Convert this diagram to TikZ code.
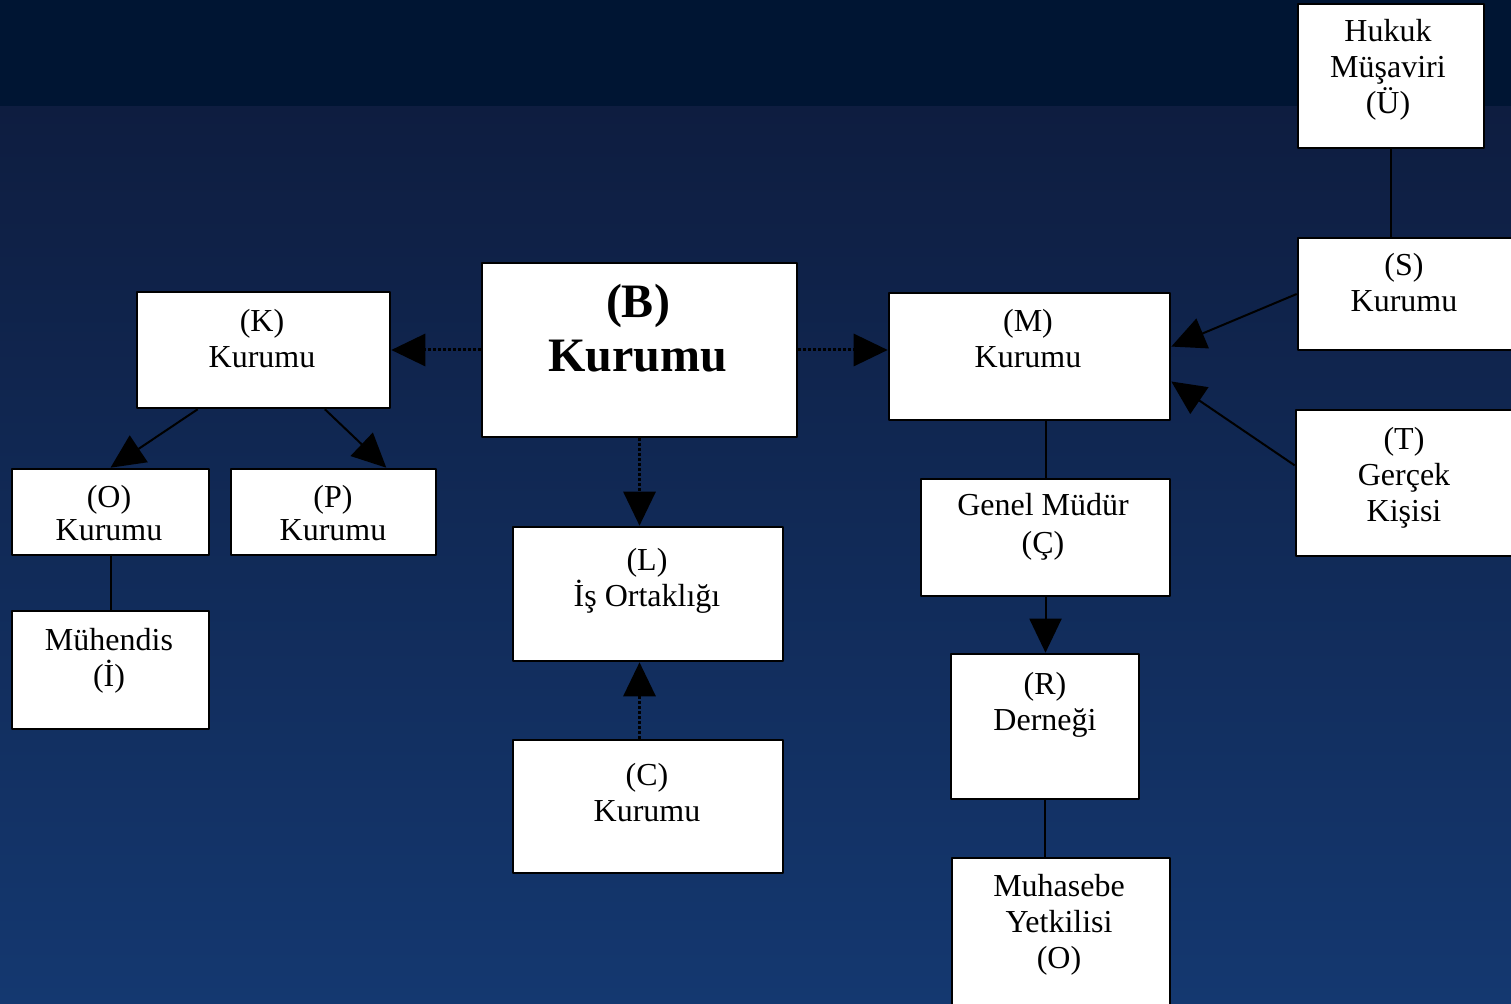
\documentclass[tikz,border=0pt]{standalone}
\usepackage{fontspec}
\setmainfont{Liberation Serif}
\usetikzlibrary{arrows.meta}
\definecolor{bgust}{RGB}{0,21,51}
\definecolor{bgorta}{RGB}{14,29,64}
\definecolor{bgalt}{RGB}{20,56,112}

\begin{document}
\begin{tikzpicture}[x=0.5pt,y=-0.5pt,line join=round,
	kutu/.style={draw=black,fill=white,line width=1.3pt,inner sep=0pt},
	yazi/.style={anchor=north,align=center,inner sep=0pt,font=\fontsize{16}{18}\selectfont},
	ok/.style={-{Triangle[length=17pt,width=16pt]},line width=1pt},
	nokta/.style={ok,line width=1.5pt,densely dotted}]
	\useasboundingbox (0,0) rectangle (1511,1004);
	\clip (0,0) rectangle (1511,1004);
	
	% arka plan
	\fill[bgust] (0,0) rectangle (1511,107);
	\shade[top color=bgorta,bottom color=bgalt] (0,107) rectangle (1511,1004);
	
	% kutular
	\node[kutu,minimum width=157.5pt,minimum height=87pt] (B) at (639.5,350) {};
	\node[kutu,minimum width=126.5pt,minimum height=58pt] (K) at (263.5,350) {};
	\node[kutu,minimum width=98.5pt,minimum height=43pt] (O) at (110.5,512) {};
	\node[kutu,minimum width=102.5pt,minimum height=43pt] (P) at (333.5,512) {};
	\node[kutu,minimum width=98.5pt,minimum height=59pt] (I) at (110.5,670) {};
	\node[kutu,minimum width=135pt,minimum height=67pt] (L) at (648,594) {};
	\node[kutu,minimum width=135pt,minimum height=66.5pt] (C) at (648,806.5) {};
	\node[kutu,minimum width=140.5pt,minimum height=63.5pt] (M) at (1029.5,356.5) {};
	\node[kutu,minimum width=124.5pt,minimum height=58.5pt] (G) at (1045.5,537.5) {};
	\node[kutu,minimum width=94pt,minimum height=72.5pt] (R) at (1045,726.5) {};
	\node[kutu,minimum width=109pt,minimum height=76pt] (H) at (1061,934) {};
	\node[kutu,minimum width=93pt,minimum height=72pt] (U) at (1391,76) {};
	\node[kutu,minimum width=109pt,minimum height=56pt] (S) at (1407,294) {};
	\node[kutu,minimum width=110pt,minimum height=73pt] (T) at (1406,483) {};
	
	% yazilar
	\node[yazi,font=\fontsize{24}{27}\selectfont\bfseries] (Bt) at (638,284) {(B)\\Kurumu};
	\node[yazi] (Kt) at (262,309) {(K)\\Kurumu};
	\node[yazi,font=\fontsize{16}{16.5}\selectfont] (Ot) at (109,485) {(O)\\Kurumu};
	\node[yazi,font=\fontsize{16}{16.5}\selectfont] (Pt) at (333,485) {(P)\\Kurumu};
	\node[yazi] (It) at (109,628) {Mühendis\\(İ)};
	\node[yazi] (Lt) at (647,548) {(L)\\İş Ortaklığı};
	\node[yazi] (Ct) at (647,763) {(C)\\Kurumu};
	\node[yazi] (Mt) at (1028,309) {(M)\\Kurumu};
	\node[yazi,font=\fontsize{16}{19}\selectfont] (Gt) at (1043,493) {Genel Müdür\\(Ç)};
	\node[yazi] (Rt) at (1045,672) {(R)\\Derneği};
	\node[yazi] (Ht) at (1059,874) {Muhasebe\\Yetkilisi\\(O)};
	\node[yazi] (Ut) at (1388,19) {Hukuk\\Müşaviri\\(Ü)};
	\node[yazi] (St) at (1404,253) {(S)\\Kurumu};
	\node[yazi] (Tt) at (1404,427) {(T)\\Gerçek\\Kişisi};
	
	% baglantilar
	\draw[nokta] (B.west) -- (K.east);
	\draw[nokta] (B.east) -- (B.east -| M.west);
	\draw[nokta] (B.south) -- (B.south |- L.north);
	\draw[nokta] (C.north -| B.south) -- (L.south -| B.south);
	\draw[ok] (K.222) -- (O.north);
	\draw[ok] (K.-44) -- (P.40);
	\draw[line width=1pt] (O.south) -- (I.north);
	\draw[line width=1pt] (U.south) -- (U.south |- S.north);
	\draw[ok] (S.west) -- (M.4);
	\draw[ok] (T.171) -- (M.-10);
	\draw[line width=1pt] (G.north |- M.south) -- (G.north);
	\draw[ok] (G.south) -- (G.south |- R.north);
	\draw[line width=1pt] (R.south) -- (R.south |- H.north);
\end{tikzpicture}
\end{document}
